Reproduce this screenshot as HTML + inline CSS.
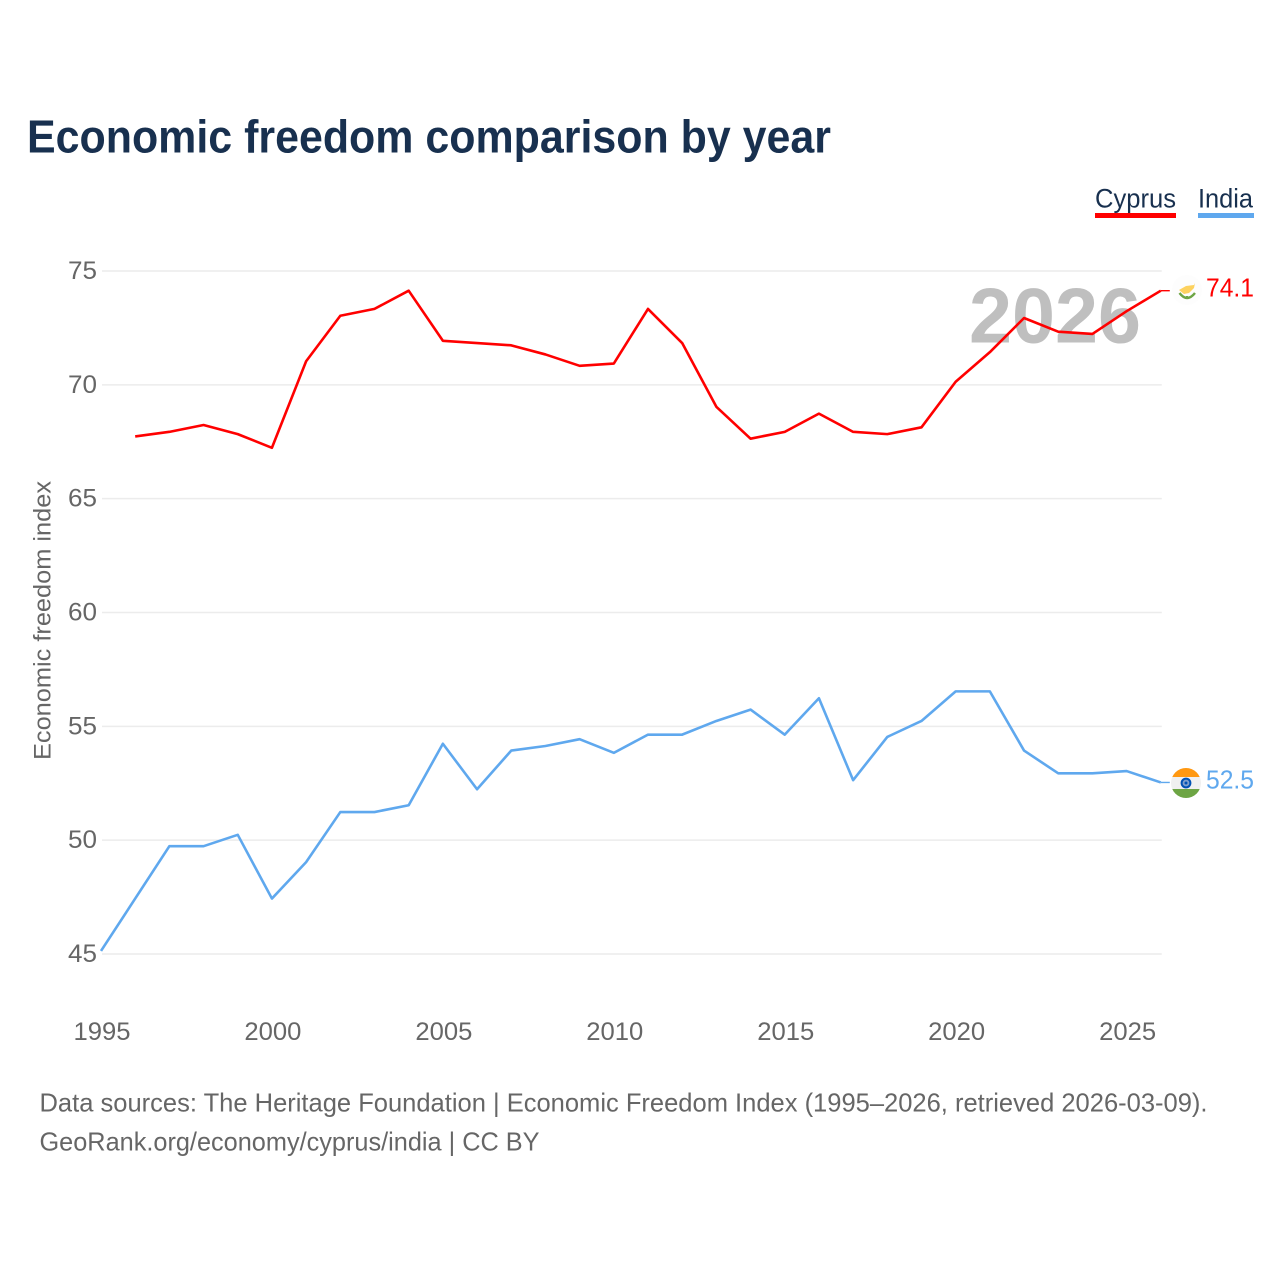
<!DOCTYPE html>
<html lang="en">
<head>
<meta charset="utf-8">
<title>Economic freedom comparison by year</title>
<style>
html,body{margin:0;padding:0;background:#fff;width:1280px;height:1280px;overflow:hidden}
svg{display:block}
text{font-family:"Liberation Sans",sans-serif}
</style>
</head>
<body>
<svg id="chart" xmlns="http://www.w3.org/2000/svg" width="1280" height="1280" viewBox="0 0 1280 1280">
  <rect width="1280" height="1280" fill="#fff"/>
  <text x="27" y="152.5" font-size="46" font-weight="700" fill="#18304f" textLength="804" lengthAdjust="spacingAndGlyphs">Economic freedom comparison by year</text>

  <g>
    <g>
      <text x="1095" y="207.5" font-size="27" fill="#18304f" textLength="81" lengthAdjust="spacingAndGlyphs">Cyprus</text>
      <rect x="1095" y="213" width="81" height="5" fill="#ff0000"/>
    </g>
    <g>
      <text x="1198" y="207.5" font-size="27" fill="#18304f" textLength="55" lengthAdjust="spacingAndGlyphs">India</text>
      <rect x="1198" y="213" width="56" height="5" fill="#5fa8ee"/>
    </g>
  </g>

  <g id="grid"></g>
  <text x="969" y="342.5" font-size="78" font-weight="700" fill="#bfbfbf" textLength="172" lengthAdjust="spacingAndGlyphs">2026</text>
  <g id="yticks"></g>
  <g id="xticks"></g>
  <text transform="translate(50.5,760) rotate(-90)" x="0" y="0" font-size="24" fill="#666" textLength="279" lengthAdjust="spacingAndGlyphs">Economic freedom index</text>
  <g id="series"></g>

  <g id="flag-cyprus">
    <circle cx="1187" cy="290" r="15" fill="#fdfdfd"/>
    <path d="M1179 290 L1186 286 L1194 285 L1195 283 L1194 288 L1189 293 L1184 294 Z" fill="#fdd25f"/>
    <path d="M1179.5 293 Q1187 303 1195 293" fill="none" stroke="#6da544" stroke-width="2.4"/>
    <path d="M1187 296 V299" fill="none" stroke="#6da544" stroke-width="2.4"/>
  </g>
  <g id="flag-india">
    <clipPath id="india-clip"><circle cx="1186" cy="783" r="15"/></clipPath>
    <g clip-path="url(#india-clip)">
      <rect x="1171" y="768" width="30" height="9" fill="#ff9811"/>
      <rect x="1171" y="777" width="30" height="12" fill="#f0f0f0"/>
      <rect x="1171" y="789" width="30" height="9" fill="#6da544"/>
    </g>
    <circle cx="1186" cy="783" r="4.4" fill="#7f9fcc" stroke="#0052b4" stroke-width="2"/>
    <circle cx="1186" cy="783" r="1.5" fill="#0052b4"/>
  </g>

  <text id="footer-1" x="39.5" y="1111.5" font-size="26" fill="#666" textLength="1168" lengthAdjust="spacingAndGlyphs">Data sources: The Heritage Foundation | Economic Freedom Index (1995–2026, retrieved 2026-03-09).</text>
  <text id="footer-2" x="39.5" y="1150.5" font-size="26" fill="#666" textLength="500" lengthAdjust="spacingAndGlyphs">GeoRank.org/economy/cyprus/india | CC BY</text>
</svg>
<script>
const years = [1995,1996,1997,1998,1999,2000,2001,2002,2003,2004,2005,2006,2007,2008,2009,2010,2011,2012,2013,2014,2015,2016,2017,2018,2019,2020,2021,2022,2023,2024,2025,2026];
const cyprusValues = [null,67.7,67.9,68.2,67.8,67.2,71.0,73.0,73.3,74.1,71.9,71.8,71.7,71.3,70.8,70.9,73.3,71.8,69.0,67.6,67.9,68.7,67.9,67.8,68.1,70.1,71.4,72.9,72.3,72.2,73.2,74.1];
const indiaValues = [45.1,47.4,49.7,49.7,50.2,47.4,49.0,51.2,51.2,51.5,54.2,52.2,53.9,54.1,54.4,53.8,54.6,54.6,55.2,55.7,54.6,56.2,52.6,54.5,55.2,56.5,56.5,53.9,52.9,52.9,53.0,52.5];
const yTickValues = [45,50,55,60,65,70,75];
const xTickValues = [1995,2000,2005,2010,2015,2020,2025];

const NS = 'http://www.w3.org/2000/svg';
const x = function (year) { return 102 + (year - 1995) * (1127.6 - 102) / 30; };
const y = function (value) { return 954 - (value - 45) * (954 - 271) / 30; };
const plotRight = x(2026);

const make = function (tag, parent, props, text) {
  const el = document.createElementNS(NS, tag);
  Object.keys(props).forEach(function (k) { el.setAttribute(k, props[k]); });
  if (text !== undefined) el.textContent = text;
  parent.appendChild(el);
  return el;
};

yTickValues.forEach(function (v) {
  const line = make('line', document.getElementById('grid'), {x1: 102, x2: plotRight, y1: y(v), y2: y(v), stroke: '#ececec', 'stroke-width': 1.5});
  
  
  const label = make('text', document.getElementById('yticks'), {x: 97, y: y(v) + 8, 'font-size': 25, fill: '#666', 'text-anchor': 'end', textLength: 29, lengthAdjust: 'spacingAndGlyphs'}, String(v));
  
  
});

xTickValues.forEach(function (v) {
  const label = make('text', document.getElementById('xticks'), {x: x(v), y: 1040, 'font-size': 25, fill: '#666', 'text-anchor': 'middle', textLength: 57, lengthAdjust: 'spacingAndGlyphs'}, String(v));
  
  
});

const drawSeries = function (key, values, color) {
  const group = document.getElementById('series');
  const pts = [];
  values.forEach(function (v, i) {
    if (v !== null) pts.push((x(years[i]) - 1).toFixed(2) + ',' + (y(v) - 0.8).toFixed(2));
  });
  const line = make('polyline', group, {points: pts.join(' '), fill: 'none', stroke: color, 'stroke-width': 2.6, 'stroke-linejoin': 'round'});
  
  
  const last = values[values.length - 1];
  const conn = make('line', group, {x1: plotRight - 1, x2: plotRight + 8, y1: y(last) - 0.8, y2: y(last) - 0.8, stroke: color, 'stroke-width': 1.4});
  
  
  const label = make('text', group, {x: 1206, y: y(last) + 5, 'font-size': 26, fill: color, textLength: 48, lengthAdjust: 'spacingAndGlyphs'}, last.toFixed(1));
  
  
};
drawSeries('cyprus', cyprusValues, '#ff0000');
drawSeries('india', indiaValues, '#5fa8ee');
</script>
</body>
</html>
